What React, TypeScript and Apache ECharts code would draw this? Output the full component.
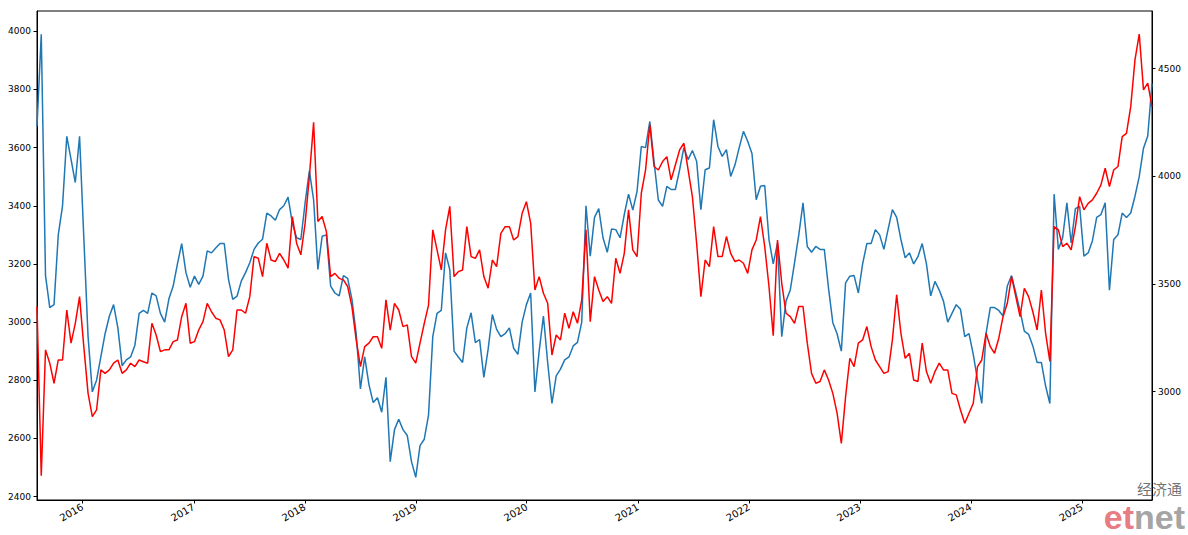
import React, { useEffect, useRef } from "react";
import * as echarts from "echarts";

// Sampling: one point every 14 days starting 2015-08-04
const startDate = "2015-08-04";
const stepDays = 14;

// Left axis series (blue)
const blueValues = [
  3673, 3990, 3160, 3050, 3060, 3300, 3400, 3639, 3560, 3480,
  3639, 3290, 2950, 2760, 2800, 2880, 2960, 3020, 3060, 2980,
  2850, 2870, 2880, 2920, 3030, 3040, 3030, 3100, 3090, 3030,
  3000, 3080, 3124, 3200, 3270, 3170, 3120, 3158, 3130, 3158,
  3245, 3238, 3255, 3270, 3270, 3147, 3078, 3089, 3141, 3170,
  3204, 3250, 3272, 3285, 3375, 3365, 3350, 3387, 3400, 3430,
  3340, 3290, 3284, 3410, 3520, 3420, 3181, 3295, 3300, 3124,
  3100, 3090, 3160, 3150, 3078, 2960, 2770, 2880, 2785, 2723,
  2740, 2690, 2810, 2520, 2630, 2666, 2630, 2610, 2520, 2466,
  2575, 2597, 2680, 2950, 3030, 3040, 3238, 3180, 2900, 2880,
  2861, 2980, 3032, 2929, 2940, 2810, 2906, 3026, 2975, 2950,
  2960, 2980, 2910, 2889, 3000, 3060, 3100, 2760, 2900, 3021,
  2860, 2720, 2815, 2838, 2870, 2880, 2918, 2930, 3000, 3400,
  3227, 3360, 3390, 3290, 3240, 3320, 3318, 3290, 3370, 3440,
  3385, 3450, 3604, 3600, 3690, 3550, 3420, 3398, 3467, 3456,
  3456, 3524, 3600, 3559, 3590, 3553, 3387, 3524, 3530, 3696,
  3604, 3570, 3593, 3501, 3540, 3600, 3656, 3622, 3580, 3421,
  3467, 3470, 3284, 3200, 3272, 2950, 3072, 3110, 3204, 3300,
  3410, 3260, 3240, 3260, 3250, 3250, 3115, 2998, 2960, 2900,
  3135, 3158, 3160, 3100, 3200, 3270, 3270, 3318, 3300, 3250,
  3320, 3387, 3360, 3284, 3221, 3238, 3200, 3225, 3270, 3200,
  3090, 3140, 3110, 3072, 3000, 3030, 3060, 3044, 2950, 2960,
  2889, 2800, 2720, 2960, 3050, 3050, 3040, 3021, 3124, 3160,
  3100, 3038, 2969, 2958, 2918, 2861, 2861, 2780, 2720, 3440,
  3250, 3290, 3410, 3272, 3390, 3398, 3227, 3238, 3280, 3360,
  3370, 3410, 3110, 3284, 3300, 3375, 3360, 3375, 3433, 3500,
  3598, 3640, 3820,
];

// Right axis series (red)
const redValues = [
  3395, 2610, 3194, 3132, 3039, 3147, 3147, 3379, 3225, 3317,
  3441, 3209, 2992, 2884, 2915, 3101, 3085, 3101, 3132, 3147,
  3085, 3101, 3132, 3116, 3147, 3139, 3132, 3317, 3263, 3186,
  3194, 3194, 3232, 3240, 3348, 3410, 3225, 3232, 3286, 3325,
  3410, 3371, 3341, 3333, 3286, 3163, 3194, 3379, 3379, 3364,
  3441, 3627, 3619, 3534, 3689, 3611, 3604, 3642, 3611, 3573,
  3813, 3689, 3635, 3782, 3998, 4250, 3790, 3813, 3743, 3534,
  3549, 3526, 3519, 3488, 3395, 3240, 3116, 3209, 3225, 3255,
  3255, 3201, 3426, 3286, 3410, 3379, 3302, 3310, 3163, 3132,
  3225, 3317, 3402, 3751, 3658, 3565, 3751, 3860, 3534, 3557,
  3565, 3766, 3627, 3619, 3658, 3534, 3480, 3611, 3580, 3735,
  3766, 3766, 3704, 3720, 3828, 3882, 3782, 3472, 3534, 3457,
  3410, 3170, 3263, 3240, 3364, 3294, 3371, 3317, 3426, 3751,
  3325, 3534, 3472, 3418, 3441, 3410, 3619, 3549, 3642, 3844,
  3658, 3627, 3921, 4029, 4240, 4045, 4029, 4068, 4091, 3983,
  4052, 4122, 4153, 4029, 3905, 3689, 3441, 3611, 3580, 3766,
  3627, 3627, 3720, 3642, 3604, 3611, 3596, 3549, 3658, 3704,
  3813, 3673, 3488, 3260, 3704, 3503, 3364, 3348, 3317, 3395,
  3395, 3225, 3085, 3039, 3047, 3101, 3054, 2992, 2900, 2760,
  2977, 3155, 3116, 3225, 3240, 3302, 3209, 3147, 3116, 3085,
  3093, 3240, 3450, 3271, 3155, 3178, 3054, 3047, 3225, 3093,
  3039, 3093, 3132, 3101, 3101, 2992, 2985, 2915, 2853, 2900,
  2946, 3116, 3147, 3271, 3209, 3178, 3248, 3348, 3410, 3534,
  3441, 3348, 3480, 3441, 3371, 3286, 3472, 3271, 3140, 3766,
  3751, 3673, 3689, 3658, 3766, 3905, 3844, 3874, 3890, 3921,
  3960, 4037, 3952, 4029, 4045, 4184, 4199, 4323, 4540, 4660,
  4401, 4432, 4323,
];

const yearTicks = [2016, 2017, 2018, 2019, 2020, 2021, 2022, 2023, 2024, 2025];
const leftTicks = [2400, 2600, 2800, 3000, 3200, 3400, 3600, 3800, 4000];
const rightTicks = [3000, 3500, 4000, 4500];

const DAY = 86400000;

export default function App() {
  const ref = useRef<HTMLDivElement>(null);

  useEffect(() => {
    if (!ref.current) return;
    const chart = echarts.init(ref.current, null, { renderer: "svg" });
    const t0 = Date.parse(startDate + "T00:00:00Z");
    const dates = blueValues.map((_, i) => t0 + i * stepDays * DAY);
    const yearTs = yearTicks.map((y) => Date.UTC(y, 0, 1));
    const font = "DejaVu Sans";
    const plain = (v: number) => String(Math.round(v));

    chart.setOption({
      animation: false,
      backgroundColor: "#ffffff",
      grid: {
        left: 37,
        right: 36,
        top: 11,
        bottom: 35,
        show: true,
        borderColor: "#000000",
        borderWidth: 1,
        backgroundColor: "transparent",
        containLabel: false,
      },
      xAxis: {
        type: "value",
        min: dates[0],
        max: dates[dates.length - 1],
        axisLine: { show: true, onZero: false, lineStyle: { color: "#000", width: 1 } },
        axisTick: { show: true, length: 3.5, customValues: yearTs, lineStyle: { color: "#000", width: 1 } },
        axisLabel: {
          show: true,
          customValues: yearTs,
          formatter: (v: number) => String(new Date(v).getUTCFullYear()),
          rotate: 30,
          fontSize: 10,
          fontFamily: font,
          color: "#000",
          margin: 6,
        },
        splitLine: { show: false },
      },
      yAxis: [
        {
          type: "value",
          position: "left",
          min: 2388,
          max: 4070,
          axisLine: { show: true, lineStyle: { color: "#000", width: 1 } },
          axisTick: { show: true, length: 3.5, customValues: leftTicks, lineStyle: { color: "#000" } },
          axisLabel: { customValues: leftTicks, formatter: plain, fontSize: 9, fontFamily: font, color: "#000", margin: 6 },
          splitLine: { show: false },
        },
        {
          type: "value",
          position: "right",
          min: 2497,
          max: 4767,
          axisLine: { show: true, lineStyle: { color: "#000", width: 1 } },
          axisTick: { show: true, length: 3.5, customValues: rightTicks, lineStyle: { color: "#000" } },
          axisLabel: { customValues: rightTicks, formatter: plain, fontSize: 9, fontFamily: font, color: "#000", margin: 6 },
          splitLine: { show: false },
        },
      ],
      series: [
        {
          type: "line",
          yAxisIndex: 0,
          data: dates.map((d, i) => [d, blueValues[i]]),
          showSymbol: false,
          symbol: "none",
          lineStyle: { color: "#1f77b4", width: 1.5 },
          itemStyle: { color: "#1f77b4" },
          z: 2,
        },
        {
          type: "line",
          yAxisIndex: 1,
          data: dates.map((d, i) => [d, redValues[i]]),
          showSymbol: false,
          symbol: "none",
          lineStyle: { color: "#ff0000", width: 1.5 },
          itemStyle: { color: "#ff0000" },
          z: 3,
        },
      ],
      graphic: [
        {
          type: "text",
          z: 100,
          style: {
            x: 1182,
            y: 496,
            text: "经济通",
            align: "right",
            verticalAlign: "bottom",
            fontSize: 15,
            lineHeight: 15,
            fontFamily: "Noto Sans CJK SC",
            fill: "rgba(90,90,90,0.85)",
          },
        },
        {
          type: "text",
          z: 100,
          style: {
            x: 1185,
            y: 534,
            text: "{a|et}{b|net}",
            align: "right",
            verticalAlign: "bottom",
            rich: {
              a: { fontSize: 34, lineHeight: 34, fontWeight: "bold", fontFamily: "Liberation Sans", fill: "rgba(225,80,90,0.75)" },
              b: { fontSize: 34, lineHeight: 34, fontWeight: "bold", fontFamily: "Liberation Sans", fill: "rgba(140,140,140,0.8)" },
            },
          },
        },
      ],
    });

    return () => chart.dispose();
  }, []);

  return (
    <div
      ref={ref}
      style={{ position: "absolute", left: 0, top: 0, width: 1188, height: 535 }}
    />
  );
}
